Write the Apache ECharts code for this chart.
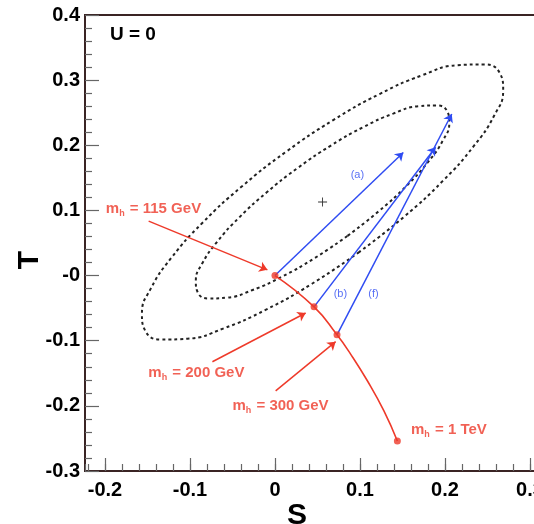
<!DOCTYPE html>
<html>
<head>
<meta charset="utf-8">
<script src="https://cdn.jsdelivr.net/npm/echarts@6/dist/echarts.min.js"></script>
<style>
html, body { margin: 0; padding: 0; background: #fff; }
#chart { width: 534px; height: 524px; }
</style>
</head>
<body>
<div id="chart"></div>
<script>
// contours in the S-T plane
var outerS = [0.099, 0.0435, -0.0111, -0.061, -0.1031, -0.1343, -0.1525, -0.1565, -0.1461, -0.1218, -0.0855, -0.0395,
              0.013, 0.0685, 0.1231, 0.173, 0.2151, 0.2463, 0.2645, 0.2685, 0.2581, 0.2338, 0.1975, 0.1515, 0.099];
var outerT = [0.036, -0.0126, -0.0527, -0.0814, -0.097, -0.0982, -0.085, -0.0584, -0.02, 0.0274, 0.0807, 0.1362,
              0.19, 0.2386, 0.2787, 0.3074, 0.323, 0.3242, 0.311, 0.2844, 0.246, 0.1986, 0.1453, 0.0898, 0.036];
var innerS = [0.0851, 0.0462, 0.0079, -0.0271, -0.0564, -0.0781, -0.0906, -0.0931, -0.0856, -0.0683, -0.0425, -0.01,
              0.0269, 0.0658, 0.1041, 0.1391, 0.1684, 0.1901, 0.2026, 0.2051, 0.1976, 0.1803, 0.1545, 0.122, 0.0851];
var innerT = [0.0607, 0.0264, -0.002, -0.0226, -0.0339, -0.0351, -0.0264, -0.0081, 0.0185, 0.0514, 0.0886, 0.1274,
              0.1653, 0.1996, 0.228, 0.2486, 0.2599, 0.2611, 0.2524, 0.2341, 0.2075, 0.1746, 0.1374, 0.0986, 0.0607];
var bestFit = [0.056, 0.113];

// SM Higgs curve
var higgsS = [0, 0.046, 0.073, 0.089, 0.1087, 0.1282, 0.144];
var higgsT = [0, -0.048, -0.091, -0.1205, -0.1615, -0.2077, -0.254];
var massNames = ['115 GeV', '200 GeV', '300 GeV', '1 TeV'];
var massS = [0, 0.046, 0.073, 0.144];
var massT = [0, -0.048, -0.091, -0.254];
var massLabelS = [-0.199, -0.149, -0.050, 0.160];
var massLabelT = [0.102, -0.150, -0.200, -0.237];
var pointerFrom = [[-0.1486, 0.0835], [-0.0736, -0.1323], [0.0008, -0.1769]];
var pointerTo = [[-0.0089, 0.0088], [0.0361, -0.0574], [0.0714, -0.1015]];

// shifts (blue arrows)
var shiftNames = ['(a)', '(b)', '(f)'];
var shiftFrom = [[0, 0], [0.046, -0.048], [0.073, -0.091]];
var shiftTo = [[0.151, 0.189], [0.189, 0.197], [0.208, 0.248]];
var shiftLabelS = [0.097, 0.077, 0.116];
var shiftLabelT = [0.154, -0.028, -0.028];

// axis ranges and tick steps
var sRange = [-0.2235, 0.3083];
var tRange = [-0.3, 0.4];
var majorStep = 0.1;
var minorStep = 0.02;

var RED = '#ee3a2a';
var BLUE = '#2f4cf2';
var FONT = 'Liberation Sans, Arial, Helvetica, sans-serif';
var FRAME = '#3a2424';

function zip(a, b) {
    return a.map(function (v, i) { return [v, b[i]]; });
}

function arrows(from, to, color) {
    return {
        silent: true, symbol: ['none', 'arrow'], symbolSize: 8,
        label: { show: false },
        lineStyle: { color: color, width: 1.5, type: 'solid' },
        emphasis: { disabled: true },
        data: from.map(function (p, i) { return [{ coord: p }, { coord: to[i] }]; })
    };
}

var myChart = echarts.init(document.getElementById('chart'));

var option = {
    animation: false,
    title: {
        text: 'U = 0',
        left: 110, top: 25, padding: 0,
        textStyle: { fontSize: 19, fontWeight: 'bold', color: '#000', fontFamily: FONT }
    },
    grid: {
        left: 85, right: -3, top: 15, bottom: 53,
        outerBoundsMode: 'none', containLabel: false,
        show: true, borderColor: FRAME, borderWidth: 2
    },
    xAxis: [
        {
            type: 'value', min: sRange[0], max: sRange[1],
            minInterval: majorStep, maxInterval: majorStep,
            name: 'S', nameLocation: 'middle', nameGap: 30, nameMoveOverlap: false,
            nameTextStyle: { fontSize: 30, fontWeight: 'bold', color: '#000', fontFamily: FONT, padding: [0, 28, 0, 0] },
            axisLine: { show: true, onZero: false, lineStyle: { color: FRAME, width: 2 } },
            axisTick: { show: true, inside: true, length: 13, lineStyle: { color: '#666', width: 1.2 } },
            axisLabel: {
                show: true, showMinLabel: false, showMaxLabel: false, margin: 9,
                fontSize: 20, fontWeight: 'bold', color: '#000', fontFamily: FONT,
                formatter: function (v) {
                    if (Math.abs(v * 10 - Math.round(v * 10)) > 1e-6) return '';
                    return Math.abs(v) < 1e-9 ? '0' : v.toFixed(1);
                }
            },
            splitLine: { show: false }
        },
        {
            type: 'value', min: sRange[0], max: sRange[1], position: 'bottom', offset: 0,
            minInterval: minorStep, maxInterval: minorStep,
            axisLine: { show: false, onZero: false },
            axisTick: { show: true, inside: true, length: 7, lineStyle: { color: '#666', width: 1.2 } },
            axisLabel: { show: false },
            splitLine: { show: false }
        }
    ],
    yAxis: {
        type: 'value', min: tRange[0], max: tRange[1], interval: majorStep,
        name: 'T', nameLocation: 'middle', nameGap: 40, nameMoveOverlap: false,
        nameTextStyle: { fontSize: 30, fontWeight: 'bold', color: '#000', fontFamily: FONT, padding: [0, 34, 0, 0] },
        axisLine: { show: true, onZero: false, lineStyle: { color: FRAME, width: 2 } },
        axisTick: { show: true, inside: true, length: 14, lineStyle: { color: '#666', width: 1.2 } },
        minorTick: { show: true, splitNumber: 5, length: 7, lineStyle: { color: '#666', width: 1.2 } },
        axisLabel: {
            margin: 5, fontSize: 20, fontWeight: 'bold', color: '#000', fontFamily: FONT,
            formatter: function (v) { return Math.abs(v) < 1e-9 ? '-0' : v.toFixed(1); }
        },
        splitLine: { show: false }
    },
    series: [
        {
            name: 'outer contour', type: 'line', smooth: true, showSymbol: false, silent: true,
            data: zip(outerS, outerT),
            lineStyle: { color: '#222', width: 2, type: [3, 3] }
        },
        {
            name: 'inner contour', type: 'line', smooth: true, showSymbol: false, silent: true,
            data: zip(innerS, innerT),
            lineStyle: { color: '#222', width: 2, type: [3, 3] }
        },
        {
            name: 'best fit', type: 'scatter', silent: true,
            symbol: 'path://M0,4.5h10v1h-10z M4.5,0h1v10h-1z', symbolSize: 9,
            itemStyle: { color: '#000' },
            data: [bestFit]
        },
        {
            name: 'shifts', type: 'scatter', symbolSize: 0, silent: true, z: 4,
            label: { show: true, position: 'inside', formatter: '{b}', fontSize: 11, color: BLUE, fontFamily: FONT },
            data: shiftNames.map(function (n, i) { return { name: n, value: [shiftLabelS[i], shiftLabelT[i]] }; }),
            markLine: arrows(shiftFrom, shiftTo, BLUE)
        },
        {
            name: 'SM Higgs', type: 'line', smooth: true, showSymbol: false, silent: true, z: 5,
            data: zip(higgsS, higgsT),
            lineStyle: { color: RED, width: 1.6 }
        },
        {
            name: 'Higgs masses', type: 'scatter', symbolSize: 7, silent: true, z: 6,
            itemStyle: { color: RED },
            data: zip(massS, massT)
        },
        {
            name: 'mass labels', type: 'scatter', symbolSize: 0, silent: true, z: 4,
            label: {
                show: true, position: 'right', distance: 0,
                formatter: function (p) { return '{m|m}{h|h}{m| = ' + p.name + '}'; },
                rich: {
                    m: { fontSize: 15, fontWeight: 'bold', color: RED, fontFamily: FONT },
                    h: { fontSize: 9, fontWeight: 'bold', color: RED, fontFamily: FONT, padding: [9, 1, 0, 0] }
                }
            },
            data: massNames.map(function (n, i) { return { name: n, value: [massLabelS[i], massLabelT[i]] }; }),
            markLine: arrows(pointerFrom, pointerTo, RED)
        }
    ]
};

myChart.setOption(option);
</script>
</body>
</html>
